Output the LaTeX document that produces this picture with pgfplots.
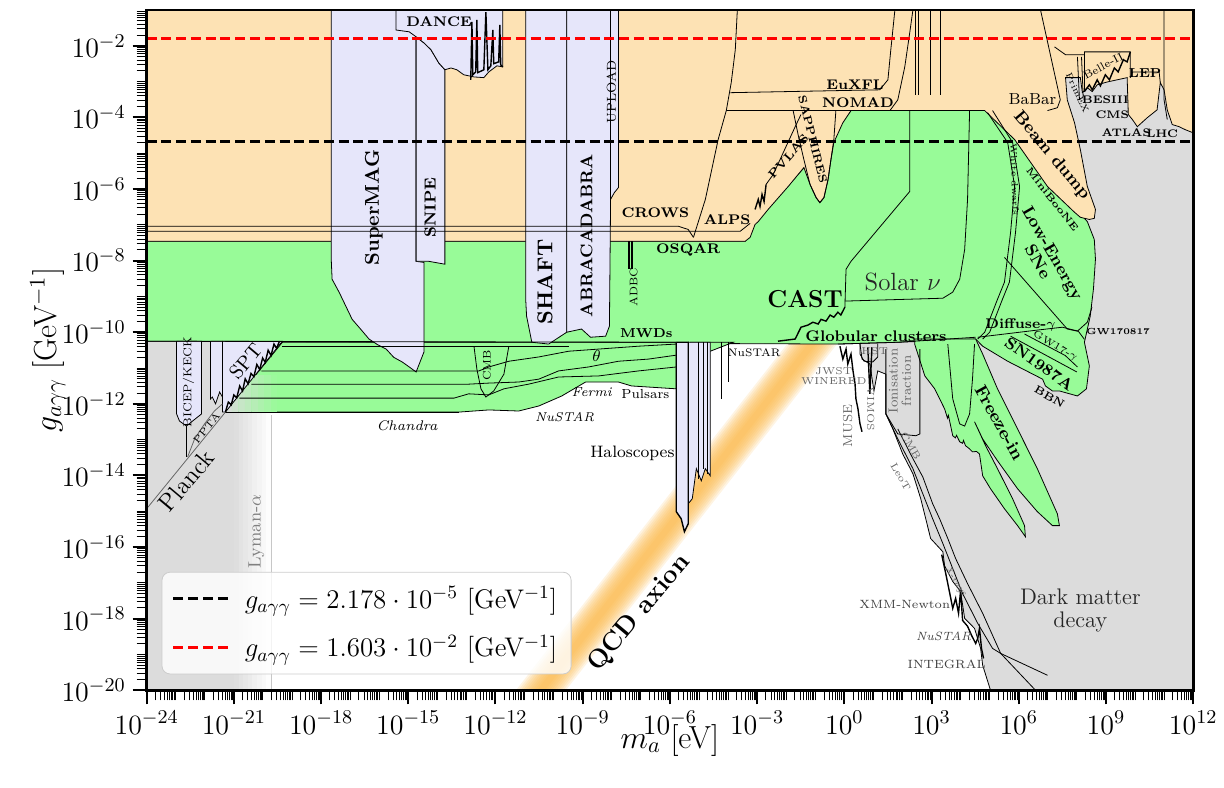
\documentclass[border=0pt]{standalone}
\usepackage{fix-cm}
\usepackage{pgfplots}
\pgfplotsset{compat=1.18}
\definecolor{peach}{RGB}{253,226,180}
\definecolor{lgreen}{RGB}{152,251,152}
\definecolor{lav}{RGB}{230,230,250}
\definecolor{lgray}{RGB}{220,220,220}
\definecolor{qcd}{RGB}{251,183,70}
\newcommand{\fs}[1]{\fontsize{#1}{#1}\selectfont}
\def\minorx{-24}
\foreach \d in {-24,...,11}{\foreach \k in {0,0.30103,0.47712,0.60206,0.69897,0.77815,0.84510,0.90309,0.95424}{\pgfmathsetmacro\v{\d+\k}\xdef\minorx{\minorx,\v}}}
\def\minory{-20}
\foreach \d in {-20,...,-2}{\foreach \k in {0,0.30103,0.47712,0.60206,0.69897,0.77815,0.84510,0.90309,0.95424}{\pgfmathsetmacro\v{\d+\k}\xdef\minory{\minory,\v}}}
\pgfplotsset{
  reg/.style={forget plot, mark=none, draw=black, line width=0.4pt},
  ar/.style={forget plot, mark=none, draw=none},
  ln/.style={forget plot, mark=none, black, line width=0.4pt},
  spk/.style={forget plot, mark=none, black, line width=0.7pt},
  longleg/.style={legend image code/.code={\draw[##1] (0pt,0pt) -- (28.5pt,0pt); \path (33pt,0pt);}},
  qb/.style={forget plot, mark=none, draw=none, fill=qcd, fill opacity=0.15},
}
\begin{document}
\begin{tikzpicture}
\begin{axis}[
  scale only axis, width=524.5pt, height=341pt,
  xmin=-24, xmax=12, ymin=-20, ymax=-1,
  axis on top,
  axis line style={line width=1.4pt},
  xtick={-24,-21,...,12},
  ytick={-20,-18,...,-2},
  minor xtick/.expanded={\minorx},
  minor ytick/.expanded={\minory},
  xticklabel={$10^{\pgfmathprintnumber{\tick}}$},
  yticklabel={$10^{\pgfmathprintnumber{\tick}}$},
  tick align=outside, tick pos=left,
  major tick length=7pt, minor tick length=5pt,
  every major tick/.append style={line width=1pt, black},
  every minor tick/.append style={line width=0.45pt, black},
  tick label style={font=\fs{14}},
  xlabel={$m_a$ [eV]}, ylabel={$g_{a\gamma\gamma}$ [GeV$^{-1}$]},
  label style={font=\fs{16}},
  xlabel style={at={(axis description cs:0.5,-0.0733)}, anchor=center},
  ylabel style={at={(axis description cs:-0.0944,0.5)}, anchor=center},
  legend style={at={(axis description cs:0.0143,0.0235)}, anchor=south west, font=\fs{13.5},
    draw=black!20, rounded corners=4pt, fill=white, fill opacity=0.8, text opacity=1,
    inner xsep=5pt, inner ysep=5pt, row sep=8pt},
  legend cell align=left,
]
% ---------------- gray regions ----------------
\addplot[ar, fill=lgray] coordinates {(-24,-20) (-21.0,-20) (-21.0,-10.25) (-24,-10.25) (-24,-20)};
\addplot[ar, fill=lgray!94!white] coordinates {(-21.0,-20) (-20.84,-20) (-20.84,-10.25) (-21.0,-10.25)};
\addplot[ar, fill=lgray!81!white] coordinates {(-20.84,-20) (-20.68,-20) (-20.68,-10.25) (-20.84,-10.25)};
\addplot[ar, fill=lgray!69!white] coordinates {(-20.68,-20) (-20.52,-20) (-20.52,-10.25) (-20.68,-10.25)};
\addplot[ar, fill=lgray!56!white] coordinates {(-20.52,-20) (-20.36,-20) (-20.36,-10.25) (-20.52,-10.25)};
\addplot[ar, fill=lgray!44!white] coordinates {(-20.36,-20) (-20.20,-20) (-20.20,-10.25) (-20.36,-10.25)};
\addplot[ar, fill=lgray!31!white] coordinates {(-20.20,-20) (-20.04,-20) (-20.04,-10.25) (-20.20,-10.25)};
\addplot[ar, fill=lgray!19!white] coordinates {(-20.04,-20) (-19.88,-20) (-19.88,-10.25) (-20.04,-10.25)};
\addplot[ar, fill=lgray!6!white] coordinates {(-19.88,-20) (-19.72,-20) (-19.72,-10.25) (-19.88,-10.25)};
\addplot[ln, draw=black!22] coordinates {(-19.72,-20) (-19.72,-12.3)};
\addplot[reg, fill=lgray] coordinates {(0.54,-10.33) (0.61,-10.75) (0.88,-10.89) (1.02,-11.64) (1.15,-11.08) (1.43,-11.17) (1.43,-12.28) (1.67,-12.70) (2.01,-13.40) (2.36,-13.95) (2.63,-14.65) (2.97,-15.76) (3.39,-16.13) (3.45,-16.52) (3.73,-16.96) (4.00,-17.24) (4.14,-17.99) (4.48,-18.27) (4.69,-18.83) (4.76,-19.30) (5.03,-20) (12,-20) (12,-2.39) (7.33,-2.39) (7.33,-10.19) (0.54,-10.19) (0.54,-10.33)};
% ---------------- QCD band (soft edges) ----------------
\addplot[qb] coordinates {(-11.30,-20) (-9.58,-20) (-0.22,-10.30) (-1.94,-10.30)};
\addplot[qb] coordinates {(-11.22,-20) (-9.66,-20) (-0.30,-10.30) (-1.86,-10.30)};
\addplot[qb] coordinates {(-11.14,-20) (-9.74,-20) (-0.38,-10.30) (-1.78,-10.30)};
\addplot[qb] coordinates {(-11.06,-20) (-9.82,-20) (-0.46,-10.30) (-1.70,-10.30)};
\addplot[qb] coordinates {(-10.98,-20) (-9.90,-20) (-0.54,-10.30) (-1.62,-10.30)};
\addplot[qb] coordinates {(-10.90,-20) (-9.98,-20) (-0.62,-10.30) (-1.54,-10.30)};
\addplot[qb] coordinates {(-10.82,-20) (-10.06,-20) (-0.70,-10.30) (-1.46,-10.30)};
\addplot[qb] coordinates {(-10.74,-20) (-10.14,-20) (-0.78,-10.30) (-1.38,-10.30)};
\addplot[qb] coordinates {(-10.66,-20) (-10.22,-20) (-0.86,-10.30) (-1.30,-10.30)};
\addplot[qb] coordinates {(-10.58,-20) (-10.30,-20) (-0.94,-10.30) (-1.22,-10.30)};
% ---------------- green regions ----------------
\addplot[reg, fill=lgreen] coordinates {(-24,-7.46) (-3.41,-7.46) (-3.07,-6.96) (-1.35,-5.37) (0.23,-3.81) (5.27,-3.81) (7.67,-6.29) (8.36,-6.91) (8.60,-7.41) (8.64,-7.96) (8.57,-8.80) (8.46,-9.55) (8.26,-10.28) (8.43,-10.94) (8.33,-11.58) (8.02,-11.78) (7.40,-11.64) (7.16,-11.64) (6.92,-11.50) (6.82,-11.31) (5.62,-10.81) (4.76,-10.39) (4.52,-10.19) (1.84,-10.28) (-0.22,-10.33) (-24,-10.25) (-24,-7.46)};
\addplot[reg, fill=lgreen] coordinates {(-21.29,-12.23) (-13.26,-12.23) (-12.23,-12.17) (-11.20,-12.20) (-10.51,-12.06) (-9.72,-11.78) (-8.90,-11.39) (-7.77,-11.39) (-7.32,-11.50) (-5.78,-11.58) (-5.78,-10.28) (-19.33,-10.28) (-21.29,-12.23)};
\addplot[ar, fill=lgreen!6!lgray] coordinates {(-21.29,-12.23) (-21.07,-12.23) (-21.07,-12.01)};
\addplot[ar, fill=lgreen!19!lgray] coordinates {(-21.07,-12.23) (-20.84,-12.23) (-20.84,-11.78) (-21.07,-12.01)};
\addplot[ar, fill=lgreen!31!lgray] coordinates {(-20.84,-12.23) (-20.62,-12.23) (-20.62,-11.55) (-20.84,-11.78)};
\addplot[ar, fill=lgreen!44!lgray] coordinates {(-20.62,-12.23) (-20.40,-12.23) (-20.40,-11.33) (-20.62,-11.55)};
\addplot[ar, fill=lgreen!56!lgray] coordinates {(-20.40,-12.23) (-20.17,-12.23) (-20.17,-11.2) (-20.27,-11.2) (-20.40,-11.33)};
\addplot[ar, fill=lgreen!69!lgray] coordinates {(-20.17,-12.23) (-19.95,-12.23) (-19.95,-11.2) (-20.17,-11.2)};
\addplot[ar, fill=lgreen!81!lgray] coordinates {(-19.95,-12.23) (-19.73,-12.23) (-19.73,-11.2) (-19.95,-11.2)};
\addplot[ar, fill=lgreen!94!lgray] coordinates {(-19.73,-12.23) (-19.50,-12.23) (-19.50,-11.2) (-19.73,-11.2)};
\addplot[ln] coordinates {(-21.29,-12.23) (-13.26,-12.23)};
\addplot[reg, fill=lgreen] coordinates {(-5.30,-10.28) (-3.82,-10.28) (-4.61,-10.53) (-5.02,-10.69) (-5.30,-10.75) (-5.30,-10.28)};
\addplot[reg, fill=lgreen] coordinates {(2.42,-10.33) (2.77,-11.22) (3.11,-11.58) (3.45,-12.14) (3.55,-12.40) (3.58,-12.32) (3.66,-12.62) (3.73,-12.89) (3.82,-12.95) (3.86,-12.88) (3.97,-13.06) (4.07,-13.10) (4.10,-13.02) (4.17,-13.17) (4.30,-13.25) (4.41,-13.34) (4.55,-13.33) (4.65,-13.40) (4.76,-14.01) (5.03,-14.37) (5.51,-14.93) (5.96,-15.40) (6.23,-15.71) (6.20,-15.40) (5.79,-14.65) (5.27,-13.81) (4.86,-13.17) (4.48,-12.50) (4.76,-12.98) (5.27,-13.59) (5.96,-14.37) (6.64,-15.01) (7.16,-15.40) (7.40,-15.40) (7.33,-15.07) (6.64,-13.81) (5.96,-12.70) (5.27,-11.58) (4.76,-10.61) (4.52,-10.19) (2.42,-10.19) (2.42,-10.33)};
% ---------------- peach (upper) ----------------
\addplot[reg, fill=peach] coordinates {(-24,-7.46) (-3.41,-7.46) (-3.24,-7.35) (-3.07,-6.99) (-2.96,-6.91) (-2.62,-6.57) (-1.93,-5.93) (-1.39,-5.40) (-1.18,-5.87) (-0.97,-6.24) (-0.84,-6.38) (-0.70,-6.24) (-0.56,-5.74) (-0.46,-5.18) (-0.36,-4.70) (-0.05,-4.15) (0.23,-3.81) (4.83,-3.81) (5.86,-4.62) (6.99,-5.93) (7.92,-6.65) (8.12,-6.79) (8.43,-6.85) (8.60,-6.82) (8.64,-6.57) (8.36,-5.93) (8.12,-4.90) (7.92,-4.15) (7.67,-3.51) (7.61,-2.89) (8.12,-2.89) (8.19,-3.31) (8.36,-3.17) (8.53,-3.28) (8.70,-3.09) (9.05,-3.01) (9.39,-2.95) (9.73,-2.89) (9.77,-3.92) (9.91,-4.06) (10.08,-4.26) (10.42,-4.01) (10.76,-3.79) (10.87,-3.03) (11.00,-3.23) (11.11,-3.79) (11.28,-4.20) (11.52,-4.26) (11.72,-4.34) (12,-4.43) (12,-1) (-24,-1) (-24,-7.46)};
% ---------------- lavender ----------------
\addplot[reg, fill=lav] coordinates {(-17.65,-1) (-14.73,-1) (-14.73,-8.02) (-14.46,-8.05) (-14.46,-10.55) (-14.73,-11.11) (-15.00,-10.95) (-15.21,-10.83) (-15.50,-10.70) (-15.76,-10.47) (-16.05,-10.35) (-16.35,-10.19) (-16.60,-9.95) (-16.93,-9.64) (-17.38,-8.88) (-17.62,-8.52) (-17.65,-7.96) (-17.65,-1)};
\addplot[reg, fill=lav] coordinates {(-14.73,-1.75) (-14.46,-1.92) (-14.22,-2.11) (-13.95,-2.48) (-13.74,-2.67) (-13.74,-8.10) (-14.29,-8.02) (-14.73,-8.02) (-14.73,-1.75)};
\addplot[reg, fill=lav] coordinates {(-15.42,-1) (-11.75,-1) (-11.75,-2.59) (-11.95,-2.56) (-12.23,-2.73) (-12.40,-2.89) (-12.74,-2.87) (-13.09,-2.81) (-13.33,-2.67) (-13.53,-2.62) (-13.74,-2.67) (-13.95,-2.48) (-14.22,-2.11) (-14.46,-1.92) (-14.73,-1.75) (-14.97,-1.61) (-15.42,-1.56) (-15.42,-1)};
\addplot[reg, fill=lav] coordinates {(-10.96,-1) (-9.55,-1) (-9.55,-10.00) (-10.17,-10.33) (-10.75,-10.28) (-10.93,-9.55) (-10.96,-9.08) (-10.96,-1)};
\addplot[reg, fill=lav] coordinates {(-9.55,-1) (-7.77,-1) (-7.77,-5.96) (-7.91,-6.10) (-8.04,-6.29) (-8.08,-9.83) (-8.21,-10.11) (-8.73,-10.14) (-9.04,-9.91) (-9.55,-10.00) (-9.55,-1)};
\addplot[ln] coordinates {(-8.04,-1) (-8.04,-6.29)};
\addplot[reg, fill=lav] coordinates {(-5.37,-10.28) (-4.61,-10.28) (-4.61,-14.01) (-4.78,-13.81) (-4.92,-14.15) (-5.09,-13.81) (-5.23,-14.65) (-5.37,-14.79) (-5.37,-10.28)};
\addplot[reg, fill=lav, line width=0.7pt] coordinates {(-5.78,-10.28) (-5.37,-10.28) (-5.37,-15.35) (-5.50,-15.57) (-5.61,-15.21) (-5.78,-15.01) (-5.78,-10.28)};
\addplot[reg, fill=lav] coordinates {(-22.97,-10.25) (-22.11,-10.25) (-22.11,-12.28) (-22.42,-12.48) (-22.63,-12.62) (-22.87,-12.48) (-22.97,-12.28) (-22.97,-10.25)};
\addplot[reg, fill=lav] coordinates {(-21.80,-10.25) (-21.39,-10.25) (-21.39,-11.81) (-21.49,-11.67) (-21.63,-12.00) (-21.74,-11.81) (-21.80,-11.86) (-21.80,-10.25)};
\addplot[reg, fill=lav] coordinates {(-21.39,-10.25) (-19.33,-10.25) (-21.29,-12.23) (-21.39,-12.23) (-21.39,-10.25)};
% ---------------- lines (left/lower) ----------------
\addplot[ln, black!60] coordinates {(-24,-14.93) (-21.29,-12.23)};
\addplot[ln, black!60] coordinates {(-22.59,-13.48) (-22.35,-12.98) (-22.01,-12.56) (-21.67,-12.20) (-21.39,-12.00)};
\addplot[ln] coordinates {(-22.63,-12.62) (-22.63,-13.48)};
\addplot[spk] coordinates {(-21.29,-12.23) (-21.19,-11.95) (-21.09,-12.03) (-21.00,-11.75) (-20.90,-11.83) (-20.80,-11.50) (-20.70,-11.64) (-20.61,-11.30) (-20.51,-11.44) (-20.41,-11.15) (-20.31,-11.24) (-20.21,-10.90) (-20.11,-11.04) (-20.01,-10.72) (-19.92,-10.84) (-19.82,-10.50) (-19.72,-10.65) (-19.62,-10.33) (-19.53,-10.45) (-19.43,-10.25)};
\addplot[ln] coordinates {(-19.33,-10.39) (-9.48,-10.39)};
\addplot[ln] coordinates {(-20.05,-11.08) (-12.57,-11.08) (-12.23,-10.97) (-11.54,-10.81) (-10.51,-10.69) (-9.48,-10.53) (-8.45,-10.47) (-7.08,-10.39) (-5.78,-10.33)};
\addplot[ln] coordinates {(-20.40,-11.45) (-12.92,-11.45) (-12.23,-11.42) (-11.20,-11.39) (-10.51,-11.31) (-9.83,-11.08) (-8.80,-10.97) (-7.77,-10.81) (-6.74,-10.75) (-5.78,-10.64)};
\addplot[ln] coordinates {(-20.81,-11.84) (-13.43,-11.84) (-12.92,-11.72) (-12.23,-11.75) (-11.71,-11.58) (-10.86,-11.45) (-9.83,-11.25) (-8.45,-11.22) (-7.08,-11.08) (-5.78,-10.97)};
\addplot[ln] coordinates {(-12.74,-10.39) (-12.64,-11.03) (-12.50,-11.58) (-12.33,-11.81) (-12.06,-11.64) (-11.71,-11.17) (-11.54,-10.39)};
\addplot[ln] coordinates {(-24,-10.25) (-5.78,-10.28)};
% haloscope spikes and NuSTAR lines
\addplot[spk] coordinates {(-5.02,-10.28) (-5.02,-14.09)};
\addplot[spk] coordinates {(-4.85,-10.28) (-4.85,-13.81)};
\addplot[spk] coordinates {(-4.70,-10.28) (-4.70,-13.95)};
\addplot[ln] coordinates {(-4.23,-10.28) (-4.23,-11.86)};
\addplot[ln] coordinates {(-3.99,-10.28) (-3.99,-11.39)};
% ADBC
\addplot[spk] coordinates {(-7.40,-7.46) (-7.40,-8.24)};
\addplot[spk] coordinates {(-7.31,-7.46) (-7.31,-8.24)};
% DANCE spikes
\addplot[spk] coordinates {(-12.85,-2.95) (-12.81,-1.33) (-12.78,-2.81) (-12.68,-2.73) (-12.64,-1.28) (-12.61,-2.75) (-12.40,-2.67) (-12.33,-1.06) (-12.26,-2.67) (-12.16,-2.56) (-12.09,-1.56) (-12.06,-2.50) (-11.89,-2.45) (-11.85,-1.42) (-11.82,-2.53) (-11.75,-2.59)};
% ---------------- lines (peach) ----------------
\addplot[ln] coordinates {(-24,-7.04) (-5.71,-7.04) (-5.37,-7.13) (-5.19,-7.35)};
\addplot[ln] coordinates {(-24,-7.18) (-3.58,-7.18) (-3.41,-7.07) (-3.24,-6.96)};
\addplot[ln] coordinates {(-5.19,-7.35) (-4.78,-6.29) (-4.34,-4.62) (-4.06,-3.81) (-3.89,-3.03) (-3.75,-2.11) (-3.68,-1)};
\addplot[ln] coordinates {(-4.06,-3.81) (1.57,-3.81) (1.84,-3.51) (2.08,-2.59) (2.25,-1.64) (2.36,-1)};
\addplot[ln] coordinates {(-3.92,-3.31) (1.22,-3.23) (1.50,-2.95) (1.60,-2.11) (1.74,-1)};
\addplot[ln] coordinates {(-1.76,-3.81) (-1.59,-4.48) (-1.39,-5.18) (-1.18,-5.87) (-0.97,-6.24) (-0.84,-6.38) (-0.70,-6.24) (-0.56,-5.74) (-0.46,-5.18) (-0.36,-4.62) (-0.29,-3.81)};
\addplot[spk] coordinates {(-3.07,-6.57) (-2.96,-6.29) (-2.90,-6.49) (-2.83,-6.15) (-2.76,-6.35) (-2.69,-5.87)};
\addplot[ln] coordinates {(-2.69,-5.87) (-2.45,-5.60) (-1.69,-4.26) (-1.49,-3.92)};
\addplot[ln, line width=0.6pt] coordinates {(2.46,-1) (2.46,-3.37)};
\addplot[ln, line width=0.6pt] coordinates {(2.56,-1) (2.56,-3.37)};
\addplot[ln] coordinates {(2.97,-1) (2.97,-3.37)};
\addplot[ln] coordinates {(3.32,-1) (3.32,-3.37)};
\addplot[ln] coordinates {(6.75,-1) (7.43,-3.51) (7.33,-3.73) (6.99,-3.81)};
\addplot[ln] coordinates {(7.23,-2.03) (7.61,-2.25) (8.26,-2.25) (8.26,-2.17) (9.84,-2.17) (9.84,-2.89)};
\addplot[ln] coordinates {(8.26,-2.17) (8.26,-3.28)};
\addplot[spk] coordinates {(8.26,-3.28) (8.43,-3.09) (8.53,-3.23) (8.70,-2.95) (8.81,-3.12) (8.98,-2.81) (9.12,-2.95) (9.29,-2.62) (9.42,-2.73) (9.60,-2.39) (9.73,-2.45) (9.84,-2.17)};
\addplot[ln] coordinates {(8.02,-2.31) (8.09,-3.51)};
\addplot[ln] coordinates {(8.16,-2.31) (8.22,-3.45)};
\addplot[ln] coordinates {(11.00,-1) (11.00,-3.51) (11.11,-4.06)};
\addplot[ln] coordinates {(9.84,-2.89) (9.91,-2.73) (10.83,-2.73) (10.87,-3.03)};
% ---------------- lines (green) ----------------
\addplot[spk] coordinates {(-2.28,-10.25) (-1.69,-10.19) (-1.49,-9.86) (-1.25,-9.80) (-1.08,-9.72) (-0.90,-9.77) (-0.80,-9.64) (-0.63,-9.69) (-0.49,-9.52) (-0.36,-9.58) (-0.22,-9.44) (-0.12,-9.52) (0.02,-9.30)};
\addplot[ln] coordinates {(0.02,-9.30) (0.06,-8.24) (0.23,-8.02) (2.25,-6.07) (2.25,-3.81)};
\addplot[ln] coordinates {(0.02,-9.13) (3.39,-9.05) (3.73,-8.88) (3.97,-8.52) (4.14,-7.69) (4.24,-6.29) (4.31,-3.81)};
\addplot[ln] coordinates {(4.93,-3.87) (5.62,-4.70) (5.86,-5.93) (5.72,-7.21) (5.51,-8.60) (5.27,-9.08) (4.83,-10.00) (4.59,-10.19)};
\addplot[ln] coordinates {(5.10,-3.81) (5.79,-4.70) (6.03,-5.93) (5.89,-7.21) (5.68,-8.60) (5.44,-9.08) (5.00,-10.00) (4.76,-10.19)};
\addplot[ln] coordinates {(5.51,-7.91) (7.67,-9.91) (8.02,-9.97) (8.36,-9.72) (8.52,-9.30)};
\addplot[ln] coordinates {(4.59,-10.14) (6.64,-9.94) (7.50,-9.86) (8.05,-9.97) (8.26,-10.20)};
\addplot[ln] coordinates {(5.72,-10.11) (8.00,-11.11)};
\addplot[ln] coordinates {(6.20,-10.05) (7.60,-10.65) (8.02,-10.97)};
\addplot[ln] coordinates {(3.56,-10.33) (3.73,-11.86) (3.97,-12.56) (4.14,-12.62) (4.31,-12.28) (4.41,-11.31) (4.48,-10.33)};
\addplot[ln] coordinates {(-0.22,-10.33) (1.84,-10.28) (4.52,-10.14)};
% ---------------- lines (gray right) ----------------
\addplot[ln] coordinates {(1.43,-10.47) (1.43,-12.28) (1.84,-12.84) (2.46,-12.89) (2.60,-12.84) (2.60,-10.47)};
\addplot[ln] coordinates {(0.54,-10.33) (0.54,-10.61) (0.68,-10.81) (0.98,-10.83) (1.15,-10.69) (1.15,-10.33)};
\addplot[ln] coordinates {(1.84,-12.70) (2.36,-13.53) (2.70,-14.04) (3.04,-14.79) (3.28,-15.21) (3.56,-15.76) (3.83,-16.32) (4.24,-17.02) (4.76,-17.85) (5.38,-18.97) (6.99,-19.58)};
\addplot[ln] coordinates {(1.43,-12.28) (1.84,-12.98) (2.36,-13.81) (2.70,-14.51) (3.04,-15.21) (3.39,-15.90) (3.73,-16.60) (4.07,-17.30) (4.59,-18.13) (5.10,-18.83) (5.38,-18.97) (6.58,-20)};
\addplot[spk] coordinates {(3.35,-16.21) (3.49,-16.74) (3.63,-17.30) (3.73,-17.71) (3.83,-17.43) (3.93,-17.85) (4.00,-17.21) (4.07,-18.05) (4.24,-18.21) (4.38,-18.47) (4.52,-18.69) (4.59,-18.55) (4.65,-18.27) (4.72,-18.83) (4.79,-19.11)};
\addplot[spk] coordinates {(-0.15,-10.39) (-0.05,-10.75) (0.06,-10.47) (0.12,-10.89) (0.23,-10.61) (0.30,-11.08) (0.37,-11.45) (0.40,-11.86) (0.47,-12.14) (0.54,-12.56) (0.61,-12.78)};
\addplot[spk] coordinates {(0.81,-10.42) (0.88,-11.72) (0.95,-10.42)};
% ---------------- labels ----------------
\node[font=\fs{7}\bfseries] at (axis cs:-13.94,-1.33) {DANCE};
\node[font=\fs{10}\bfseries, rotate=90] at (axis cs:-16.18,-6.52) {SuperMAG};
\node[font=\fs{8}\bfseries, rotate=90] at (axis cs:-14.25,-6.52) {SNIPE};
\node[font=\fs{10.8}\bfseries, rotate=90] at (axis cs:-10.30,-8.60) {SHAFT};
\node[font=\fs{8.5}\bfseries, rotate=90] at (axis cs:-8.87,-7.30) {ABRACADABRA};
\node[font=\fs{6.5}, rotate=90] at (axis cs:-8.01,-3.28) {UPLOAD};
\node[font=\fs{7}\bfseries] at (axis cs:-6.50,-6.65) {CROWS};
\node[font=\fs{7}\bfseries] at (axis cs:-4.03,-6.85) {ALPS};
\node[font=\fs{7}\bfseries] at (axis cs:-5.37,-7.69) {OSQAR};
\node[font=\fs{7}\bfseries] at (axis cs:0.37,-3.09) {EuXFL};
\node[font=\fs{7}\bfseries] at (axis cs:0.47,-3.59) {NOMAD};
\node[font=\fs{5.7}\bfseries, rotate=-76] at (axis cs:-1.08,-4.62) {SAPPHIRES};
\node[font=\fs{6}\bfseries, rotate=49] at (axis cs:-1.93,-5.09) {PVLAS};
\node[font=\fs{8}] at (axis cs:6.47,-3.48) {BaBar};
\node[font=\fs{8.7}\bfseries, rotate=-50] at (axis cs:7.13,-5.07) {Beam dump};
\node[font=\fs{5.5}, rotate=28] at (axis cs:8.91,-2.56) {Belle-II};
\node[font=\fs{6.5}\bfseries] at (axis cs:10.35,-2.75) {LEP};
\node[font=\fs{5.5}\bfseries] at (axis cs:8.98,-3.51) {BESIII};
\node[font=\fs{5.5}\bfseries] at (axis cs:9.22,-3.92) {CMS};
\node[font=\fs{5.5}\bfseries] at (axis cs:9.70,-4.43) {ATLAS};
\node[font=\fs{5.5}\bfseries] at (axis cs:10.94,-4.45) {LHC};
\node[font=\fs{4.5}, rotate=-65] at (axis cs:8.02,-3.31) {PrimEX};
\node[font=\fs{4.5}, rotate=-88] at (axis cs:5.86,-5.74) {White dwarfs};
\node[font=\fs{5}\bfseries, rotate=-52] at (axis cs:7.16,-6.29) {MiniBooNE};
\node[font=\fs{8.5}\bfseries, rotate=-60, align=center] at (axis cs:6.92,-7.91) {Low-Energy\\SNe};
\node[font=\fs{12.5}, text=black!85] at (axis cs:2.01,-8.60) {Solar $\nu$};
\node[font=\fs{12.3}\bfseries] at (axis cs:-1.35,-9.08) {CAST};
\node[font=\fs{5.5}, rotate=90] at (axis cs:-7.25,-8.74) {ADBC};
\node[font=\fs{6.5}\bfseries] at (axis cs:-6.81,-10.03) {MWDs};
\node[font=\fs{7.7}\bfseries] at (axis cs:1.09,-10.11) {Globular clusters};
\node[font=\fs{7}\bfseries] at (axis cs:6.06,-9.80) {Diffuse-$\gamma$};
\node[font=\fs{4.4}\bfseries] at (axis cs:9.42,-9.97) {GW170817};
\node[font=\fs{5}, rotate=-30] at (axis cs:7.26,-10.39) {GW17-$\gamma$};
\node[font=\fs{8}\bfseries, rotate=-35] at (axis cs:6.71,-10.89) {SN1987A};
\node[font=\fs{5.5}\bfseries, rotate=-30] at (axis cs:7.06,-11.80) {BBN};
\node[font=\fs{8.9}\bfseries, rotate=-61] at (axis cs:5.34,-12.53) {Freeze-in};
\node[font=\fs{6.6}, rotate=90, align=center, text=black!60] at (axis cs:1.91,-11.36) {Ionisation\\fraction};
\node[font=\fs{5}, text=black!60] at (axis cs:1.05,-10.53) {HST};
\node[font=\fs{5}, align=center, text=black!60] at (axis cs:-0.36,-11.22) {JWST\\WINERED};
\node[font=\fs{6.5}, rotate=90, text=black!60] at (axis cs:0.12,-12.62) {MUSE};
\node[font=\fs{5}, rotate=-90, text=black!60] at (axis cs:0.91,-12.14) {VIMOS};
\node[font=\fs{5}, rotate=-60, text=black!60] at (axis cs:2.29,-13.17) {CMB};
\node[font=\fs{5}, rotate=-60, text=black!60] at (axis cs:1.94,-14.04) {LeoT};
\node[font=\fs{5.5}] at (axis cs:-3.10,-10.58) {NuSTAR};
\node[font=\fs{8.3}] at (axis cs:-7.29,-13.37) {Haloscopes};
\node[font=\fs{6.6}] at (axis cs:-6.84,-11.72) {Pulsars};
\node[font=\fs{6.6}\itshape] at (axis cs:-8.69,-11.67) {Fermi};
\node[font=\fs{6.4}\itshape] at (axis cs:-9.62,-12.37) {NuSTAR};
\node[font=\fs{8}] at (axis cs:-8.52,-10.67) {$\theta$};
\node[font=\fs{5.5}, rotate=90] at (axis cs:-12.30,-10.92) {CMB};
\node[font=\fs{7}\itshape] at (axis cs:-15.04,-12.62) {Chandra};
\node[font=\fs{12.4}, rotate=50] at (axis cs:-22.63,-14.15) {Planck};
\node[font=\fs{5}, rotate=50] at (axis cs:-21.94,-12.67) {PPTA};
\node[font=\fs{5.7}, rotate=90] at (axis cs:-22.56,-11.39) {BICEP/KECK};
\node[font=\fs{10}, rotate=50] at (axis cs:-20.60,-10.81) {SPT};
\node[font=\fs{9}, rotate=90, text=black!50] at (axis cs:-20.23,-15.57) {Lyman-$\alpha$};
\node[font=\fs{5}\itshape, rotate=-58, text=black!60] at (axis cs:3.83,-16.96) {X-rays};
\node[font=\fs{6}, text=black!75] at (axis cs:2.08,-17.60) {XMM-Newton};
\node[font=\fs{6}\itshape, text=black!75] at (axis cs:3.42,-18.49) {NuSTAR};
\node[font=\fs{6}, text=black!75] at (axis cs:3.52,-19.27) {INTEGRAL};
\node[font=\fs{11.3}, align=center, text=black!85] at (axis cs:8.12,-17.77) {Dark matter\\decay};
\node[font=\fs{13}\bfseries, rotate=50] at (axis cs:-7.05,-17.85) {QCD axion};
% ---------------- dashed reference lines ----------------
\addplot[black, mark=none, line width=1.5pt, dash pattern=on 5pt off 2.4pt, longleg] coordinates {(-24,-4.662) (12,-4.662)};
\addlegendentry{$g_{a\gamma\gamma} = 2.178\cdot 10^{-5}$ [GeV$^{-1}$]}
\addplot[red, mark=none, line width=1.5pt, dash pattern=on 5pt off 2.4pt, longleg] coordinates {(-24,-1.795) (12,-1.795)};
\addlegendentry{$g_{a\gamma\gamma} = 1.603\cdot 10^{-2}$ [GeV$^{-1}$]}
\end{axis}
\path ([shift={(-73.5pt,-48.5pt)}]current axis.south west) rectangle ([shift={(14pt,5pt)}]current axis.north east);
\end{tikzpicture}
\end{document}
